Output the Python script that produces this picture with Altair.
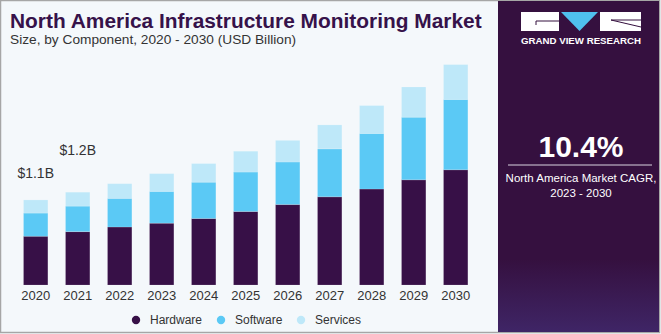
import altair as alt
import pandas as pd

# ---- data (USD Billion) ----
years = ["2020", "2021", "2022", "2023", "2024", "2025", "2026", "2027", "2028", "2029", "2030"]
hardware = [0.63, 0.69, 0.75, 0.80, 0.86, 0.95, 1.04, 1.14, 1.24, 1.36, 1.49]
software = [0.30, 0.33, 0.37, 0.41, 0.47, 0.51, 0.55, 0.62, 0.72, 0.81, 0.91]
services = [0.17, 0.18, 0.19, 0.23, 0.24, 0.27, 0.28, 0.31, 0.36, 0.39, 0.45]
segments = ["Hardware", "Software", "Services"]
seg_colors = ["#371047", "#5BC9F5", "#BEE8F9"]
label_years = ["2020", "2021"]
label_texts = ["$1.1B", "$1.2B"]

title_text = "North America Infrastructure Monitoring Market"
subtitle_text = "Size, by Component, 2020 - 2030 (USD Billion)"
cagr_value = "10.4%"
cagr_line1 = "North America Market CAGR,"
cagr_line2 = "2023 - 2030"
brand = "GRAND VIEW RESEARCH"

# ---- layout ----
W, H = 661, 334
OX, OY = 14.7, 53          # plot-area origin in the page
PW, PH = 462, 232          # plot area size


def px(x):
    return x - OX


def py(y):
    return y - OY


rows = []
for i, y in enumerate(years):
    for k, (s, v) in enumerate(zip(segments, [hardware[i], software[i], services[i]])):
        rows.append({"year": y, "segment": s, "value": v, "order": k})
df = pd.DataFrame(rows)

totals = {y: hardware[i] + software[i] + services[i] for i, y in enumerate(years)}
lab_df = pd.DataFrame({"year": label_years, "text": label_texts,
                       "total": [totals[y] for y in label_years]})

FONT = "Liberation Sans"

xscale = alt.Scale(domain=years, paddingInner=0.42, paddingOuter=0.21)
yscale = alt.Scale(domain=[0, 3.0], nice=False)

bars = alt.Chart(df).mark_bar(stroke="#ffffff", strokeOpacity=0.25, strokeWidth=0.6).encode(
    x=alt.X("year:N", scale=xscale, sort=years,
            axis=alt.Axis(title=None, labelAngle=0, domain=False, ticks=False,
                          labelFontSize=13, labelColor="#333333", labelPadding=4,
                          labelFont=FONT)),
    y=alt.Y("sum(value):Q", scale=yscale, stack="zero", axis=None),
    color=alt.Color("segment:N",
                    scale=alt.Scale(domain=segments, range=seg_colors),
                    legend=alt.Legend(title=None, orient="none", direction="horizontal",
                                      legendX=px(130), legendY=py(314),
                                      symbolType="circle", symbolSize=70,
                                      labelFontSize=12, labelColor="#333333",
                                      labelFont=FONT, labelOffset=8,
                                      columnPadding=12, symbolStrokeWidth=0)),
    order=alt.Order("order:Q"),
)

lab1 = alt.Chart(lab_df[lab_df.year == "2020"]).mark_text(
    fontSize=14, color="#333333", font=FONT, baseline="bottom", dy=-19
).encode(x=alt.X("year:N", scale=xscale, sort=years), y=alt.Y("total:Q", scale=yscale),
         text="text:N")
lab2 = alt.Chart(lab_df[lab_df.year == "2021"]).mark_text(
    fontSize=14, color="#333333", font=FONT, baseline="bottom", dy=-34
).encode(x=alt.X("year:N", scale=xscale, sort=years), y=alt.Y("total:Q", scale=yscale),
         text="text:N")

one = alt.Data(values=[{}])


def rect(x1, y1, x2, y2, **kw):
    return alt.Chart(one).mark_rect(**kw).encode(
        x=alt.value(px(x1)), x2=alt.value(px(x2)),
        y=alt.value(py(y1)), y2=alt.value(py(y2)))


def rule(x1, y1, x2, y2, **kw):
    return alt.Chart(one).mark_rule(**kw).encode(
        x=alt.value(px(x1)), x2=alt.value(px(x2)),
        y=alt.value(py(y1)), y2=alt.value(py(y2)))


def text(t, x, y, **kw):
    return alt.Chart(one).mark_text(text=t, **kw).encode(
        x=alt.value(px(x)), y=alt.value(py(y)))


border = rect(0.5, 0.5, W - 1.5, 332.5, fill=None, stroke="#a6a6a6", strokeWidth=1.5)

grad = alt.LinearGradient(
    gradient="linear", x1=0, x2=0, y1=0, y2=1,
    stops=[alt.GradientStop(color="#35103F", offset=0),
           alt.GradientStop(color="#35103F", offset=0.78),
           alt.GradientStop(color="#3F2566", offset=1)])
panel = rect(498, 1, 659, 332, color=grad)

logo_l = rect(521, 12, 559, 31, color="#ffffff")
logo_l_notch = rule(536, 21, 559, 21, color="#35103F", strokeWidth=1)
logo_l_notch2 = rule(536, 21, 536, 25, color="#35103F", strokeWidth=1)
logo_r = rect(600, 12, 641, 31, color="#ffffff")
logo_r_notch = rule(611, 20, 641, 20, color="#35103F", strokeWidth=1)
logo_r_notch2 = rule(611, 20, 641, 27, color="#35103F", strokeWidth=1)
tri = alt.Chart(one).mark_point(
    shape="M-1,-0.52L1,-0.52L0,0.52Z", filled=True, color="#4FC0EE", opacity=1, size=1369
).encode(x=alt.value(px(579.5)), y=alt.value(py(21.5)))
brand_t = text(brand, 581, 44, fontSize=9.7, fontWeight="bold", color="#ffffff", font=FONT,
               align="center", baseline="alphabetic")

cagr_t = text(cagr_value, 581, 157, fontSize=30, fontWeight="bold", color="#ffffff",
              font=FONT, align="center", baseline="alphabetic")
cagr_rule = rule(508, 165, 652, 165, color="#d9d3e0", strokeWidth=1)
cagr_l1 = text(cagr_line1, 581, 182, fontSize=11.5, color="#ffffff", font=FONT,
               align="center", baseline="alphabetic")
cagr_l2 = text(cagr_line2, 581, 197, fontSize=11.5, color="#ffffff", font=FONT,
               align="center", baseline="alphabetic")

title_t = text(title_text, 10, 27.5, fontSize=20.9, fontWeight="bold", color="#36124A",
               font=FONT, align="left", baseline="alphabetic")
sub_t = text(subtitle_text, 10, 44, fontSize=13.7, color="#333333", font=FONT,
             align="left", baseline="alphabetic")

chart = alt.layer(
    border, panel, logo_l, logo_l_notch, logo_l_notch2, logo_r, logo_r_notch, logo_r_notch2,
    tri, brand_t, cagr_t, cagr_rule, cagr_l1, cagr_l2, title_t, sub_t,
    bars, lab1, lab2,
).properties(
    width=PW, height=PH,
    autosize=alt.AutoSizeParams(type="none"),
    padding={"left": OX, "top": OY, "right": W - OX - PW, "bottom": H - OY - PH},
    background="#F4F8FB",
).configure_view(stroke=None)

chart.save("out.html", embed_options={"renderer": "svg", "actions": False})
